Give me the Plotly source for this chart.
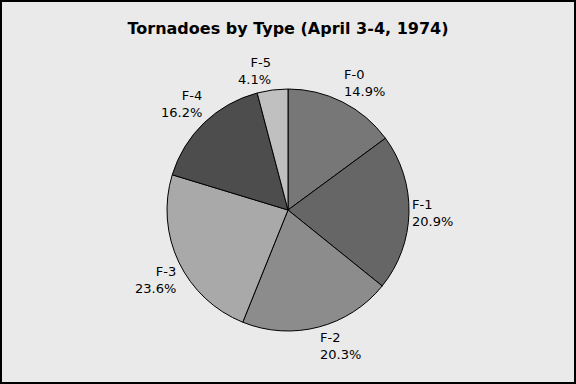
import math
import plotly.graph_objects as go

categories = ["F-0", "F-1", "F-2", "F-3", "F-4", "F-5"]
values = [14.9, 20.9, 20.3, 23.6, 16.2, 4.1]
colors = ["#777777", "#666666", "#8c8c8c", "#a9a9a9", "#4d4d4d", "#c0c0c0"]

W, H = 576, 384
TOP, BOTTOM = 89, 53          # pie domain margins (px)
CX = W / 2
CY = TOP + (H - TOP - BOTTOM) / 2
R = (H - TOP - BOTTOM) / 2
LABEL_R = R + 2

fig = go.Figure(go.Pie(
    labels=categories,
    values=values,
    sort=False,
    direction="clockwise",
    rotation=0,
    automargin=False,
    marker=dict(colors=colors, line=dict(color="#000000", width=1)),
    textinfo="none",
    domain=dict(x=[0, 1], y=[BOTTOM / H, 1 - TOP / H]),
    showlegend=False,
    hoverinfo="skip",
))

# outside labels, anchored at the mid-angle of each slice
total = sum(values)
annotations = []
cum = 0.0
for lab, v in zip(categories, values):
    mid = (cum + v / 2) / total * 2 * math.pi
    cum += v
    s, c = math.sin(mid), math.cos(mid)
    px = CX + LABEL_R * s
    py = CY - LABEL_R * c
    xa = "left" if s >= 0 else "right"
    if abs(c) < 0.2:
        ya = "middle"
    elif c > 0:
        ya = "bottom"
    else:
        ya = "top"
    annotations.append(dict(
        x=px / W, y=1 - py / H, xref="paper", yref="paper",
        text=f"{lab}<br>{v / total * 100:.1f}%",
        showarrow=False, xanchor=xa, yanchor=ya, align=xa,
        borderpad=0,
        font=dict(family="DejaVu Sans", size=13, color="#000000"),
    ))

fig.update_layout(
    width=W, height=H,
    autosize=False,
    showlegend=False,
    margin=dict(l=0, r=0, t=0, b=0, pad=0, autoexpand=False),
    paper_bgcolor="#eaeaea",
    plot_bgcolor="#eaeaea",
    title=dict(text="<b>Tornadoes by Type (April 3-4, 1974)</b>",
               x=0.5, xanchor="center", y=1 - 28 / H, yanchor="middle",
               font=dict(family="DejaVu Sans", size=16, color="#000000")),
    annotations=annotations,
    shapes=[dict(type="rect", xref="paper", yref="paper",
                 x0=1 / W, x1=1 - 1 / W, y0=1 / H, y1=1 - 1 / H,
                 line=dict(color="#000000", width=2))],
)

fig.write_html("out.html",
               config={"displayModeBar": False},
               post_script="document.body.style.margin='0';document.body.style.background='#eaeaea';")
